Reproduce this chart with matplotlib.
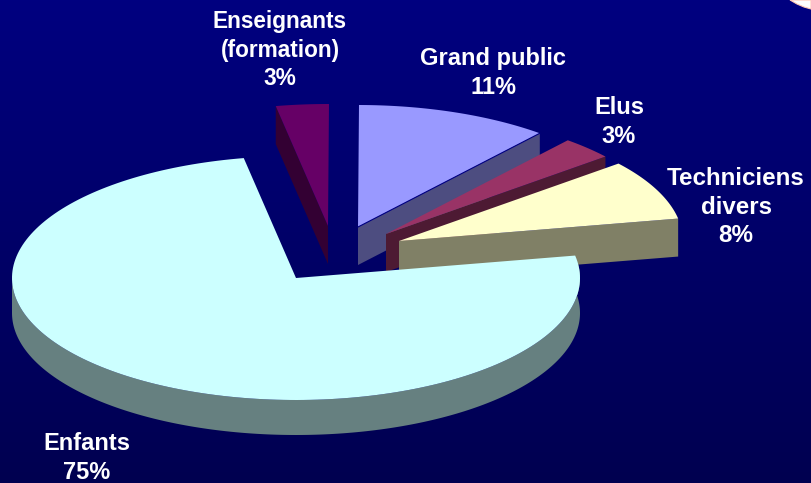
#!/usr/bin/env python3
# -*- coding: utf-8 -*-
import numpy as np
import matplotlib
matplotlib.use('Agg')
import matplotlib.pyplot as plt

plt.rcParams['font.family'] = ['Liberation Sans', 'DejaVu Sans']

# Data, going clockwise from the back of the pie
names = ['Enseignants\n(formation)', 'Grand public', 'Elus', 'Techniciens\ndivers', 'Enfants']
values = [3, 11, 3, 8, 75]

# Where each slice tip sits (pixels), the slices are exploded by hand
tips_x = [328, 358, 386, 399, 296]
tips_y = [226, 227, 234, 241, 278]

top_colors = ['#660066', '#9999FF', '#993366', '#FFFFCC', '#CCFFFF']
side_colors = ['#330033', '#4D4D80', '#4D1A33', '#808066', '#668080']

label_x = [280, 493, 619, 736, 87]
label_y = [50, 73, 122, 207, 458]
label_size = [16.3, 17, 17, 17.4, 17]

start_angle = 100.6
radius_x = 284
radius_y = 122
depths = [38, 38, 38, 38, 35]

#%% Figure and background

fig_w, fig_h = 811, 483
fig = plt.figure(figsize = (fig_w / 100, fig_h / 100), dpi = 100)
panel = plt.axes([0, 0, 1, 1])
panel.axis('off')

gradient = np.zeros((256, 1, 3))
gradient[:, 0, 2] = np.linspace(128, 80, 256) / 255
panel.imshow(gradient, extent = (0, fig_w, fig_h, 0), aspect = 'auto', zorder = 0)

# Corner of the slide frame, top right
corner_x = np.array([790, 797, 804, 811, 811])
corner_y = np.array([0, 4, 7, 9, 0])
panel.fill(corner_x, corner_y, facecolor = 'white', edgecolor = '#FFC8B4',
           linewidth = 0.8, zorder = 1)


def arc_points(cx, cy, a0, a1):
    a = np.radians(np.linspace(a0, a1, 200))
    return cx + radius_x * np.cos(a), cy - radius_y * np.sin(a)


#%% Slices, back to front

angle = start_angle
z = 2
for i, value in enumerate(values):
    a0 = angle
    a1 = angle - value * 3.6
    angle = a1
    cx, cy = tips_x[i], tips_y[i]
    depth = depths[i]

    if i == 4:
        # big slice: only the round rim shows
        xs, ys = arc_points(cx, cy, a0, -180)
        panel.fill(np.r_[xs, xs[::-1]], np.r_[ys, ys[::-1] + depth],
                   color = side_colors[i], linewidth = 0, zorder = z)
    else:
        # flat cut face, left one for the slice past the vertical
        edge_angle = a0 if i == 0 else a1
        ex = cx + radius_x * np.cos(np.radians(edge_angle))
        ey = cy - radius_y * np.sin(np.radians(edge_angle))
        panel.fill([cx, ex, ex, cx], [cy, ey, ey + depth, cy + depth],
                   color = side_colors[i], linewidth = 0, zorder = z)

    xs, ys = arc_points(cx, cy, a0, a1)
    panel.fill(np.r_[cx, xs], np.r_[cy, ys], color = top_colors[i],
               linewidth = 0, zorder = z + 1)

    if i == 1:
        panel.plot([cx, xs[-1]], [cy, ys[-1]], color = '#000080',
                   linewidth = 0.8, zorder = z + 1)
    z += 2

#%% Labels

for i, name in enumerate(names):
    panel.text(label_x[i], label_y[i], name + '\n' + str(values[i]) + '%',
               ha = 'center', va = 'center', ma = 'center',
               color = 'white', fontsize = label_size[i], fontweight = 'bold',
               linespacing = 1.33, zorder = 20)

panel.set_xlim(0, fig_w)
panel.set_ylim(fig_h, 0)

plt.savefig('out.png', dpi = 100)
plt.close()
